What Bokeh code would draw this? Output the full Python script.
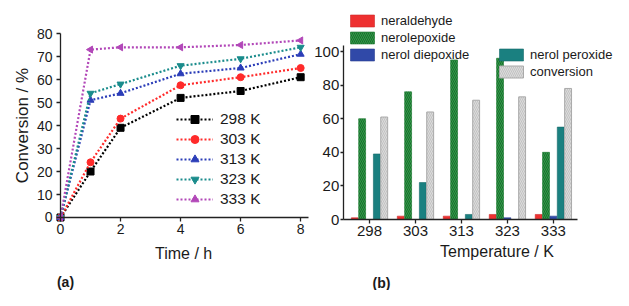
import numpy as np
from bokeh.plotting import figure
from bokeh.models import Range1d, FixedTicker, Legend, LegendItem, Label, ColumnDataSource
from bokeh.layouts import row
from bokeh.transform import dodge
from bokeh.embed import file_html
from bokeh.resources import INLINE

FONT = "Liberation Sans"
INK = "#1a1a1a"

# ---------------- (a) conversion vs time ----------------
time_h = [0, 1, 2, 4, 6, 8]
conv_298 = [0, 20, 39, 52, 55, 61]
conv_303 = [0, 24, 43, 57.5, 61, 65]
conv_313 = [0, 51, 54, 62.5, 65, 71]
conv_323 = [0, 54, 58, 66, 69, 74]
conv_333 = [0, 73, 74, 74, 75, 77]
series_labels = ["298 K", "303 K", "313 K", "323 K", "333 K"]
time_ticks = [0, 2, 4, 6, 8]
conv_ticks = [0, 10, 20, 30, 40, 50, 60, 70, 80]

# ---------------- (b) product distribution ----------------
temps = ["298", "303", "313", "323", "333"]
neraldehyde = [1, 2, 2, 3, 3]
nerolepoxide = [60, 76, 95, 96, 40]
nerol_diepoxide = [0, 0, 0, 1, 2]
nerol_peroxide = [39, 22, 3, 0, 55]
conversion = [61, 64, 71, 73, 78]
pct_ticks = [0, 20, 40, 60, 80, 100]


def style_axis(ax, size):
    ax.axis_line_color = "#222222"
    ax.axis_line_width = 1.3
    ax.major_tick_line_color = "#222222"
    ax.major_tick_line_width = 1.3
    ax.major_tick_in = 0
    ax.major_tick_out = 4
    ax.minor_tick_line_color = None
    ax.major_label_text_font = FONT
    ax.major_label_text_font_size = size
    ax.major_label_text_color = INK


def bare_figure(width, xr, yr):
    p = figure(width=width, height=290, x_range=Range1d(*xr), y_range=Range1d(*yr),
               output_backend="svg", toolbar_location=None,
               min_border=0, min_border_left=0, min_border_right=0,
               min_border_top=0, min_border_bottom=0)
    p.outline_line_color = None
    p.grid.visible = False
    return p


def text(p, x, y, s, size, bold=False, angle=0.0):
    p.add_layout(Label(x=x, y=y, text=s, angle=angle, text_align="center",
                       text_baseline="middle", text_font=FONT, text_font_size=size,
                       text_font_style="bold" if bold else "normal", text_color=INK))


# ---------------- figure a ----------------
pa = bare_figure(309, (-1.9987, 8.2945), (-31.74, 94.35))
for ax in pa.axis:
    style_axis(ax, "14px")
pa.xaxis.fixed_location = 0
pa.yaxis.fixed_location = 0
pa.xaxis.bounds = (0, 8.26)
pa.yaxis.bounds = (0, 80)
pa.xaxis.ticker = FixedTicker(ticks=time_ticks)
pa.yaxis.ticker = FixedTicker(ticks=conv_ticks)
pa.xaxis.major_label_standoff = 3
pa.yaxis.major_label_standoff = 4

series = [conv_298, conv_303, conv_313, conv_323, conv_333]
colors = ["#000000", "#ff2a2a", "#2b3db8", "#1a8c8c", "#b247b8"]
markers = ["square", "circle", "triangle", "inverted_triangle", "triangle"]
angles = [0, 0, 0, 0, np.pi / 2]
items = []
for lab, ys, c, m, ang in zip(series_labels, series, colors, markers, angles):
    r1 = pa.line(time_h, ys, line_color=c, line_width=2.2, line_dash="2 2")
    r2 = pa.scatter(time_h, ys, marker=m, size=7, angle=ang, fill_color=c, line_color=c)
    items.append(LegendItem(label=lab, renderers=[r1, r2]))
leg_a = Legend(items=items, location=(176, 81), border_line_color=None,
               background_fill_alpha=0, padding=0, margin=0, spacing=0,
               glyph_width=37, glyph_height=20, label_height=20, label_standoff=7,
               label_text_font=FONT, label_text_font_size="15.5px", label_text_color=INK)
pa.add_layout(leg_a)
text(pa, -1.2825, 40, "Conversion / %", "17px", angle=np.pi / 2)
text(pa, 4.1, -15.65, "Time / h", "16px")
text(pa, 0.167, -28.26, "(a)", "14px", bold=True)

# ---------------- figure b ----------------
pb = bare_figure(304, (-1.3052, 5.3078), (-42.26, 130.36))
for ax in pb.axis:
    style_axis(ax, "15px")
idx = list(range(len(temps)))
pb.xaxis.fixed_location = 0
pb.yaxis.fixed_location = -0.57
pb.xaxis.bounds = (-0.57, 4.52)
pb.yaxis.bounds = (0, 103.6)
pb.xaxis.ticker = FixedTicker(ticks=idx)
pb.xaxis.major_label_overrides = {i: t for i, t in zip(idx, temps)}
pb.yaxis.ticker = FixedTicker(ticks=pct_ticks)
pb.xaxis.major_label_standoff = 2
pb.yaxis.major_label_standoff = 1
pb.yaxis.major_tick_out = 3

src = ColumnDataSource(dict(x=idx, neraldehyde=neraldehyde, nerolepoxide=nerolepoxide,
                            diepoxide=nerol_diepoxide, peroxide=nerol_peroxide,
                            conversion=conversion))
bw = 0.15
r_ald = pb.vbar(x=dodge("x", -0.32), top="neraldehyde", width=bw, source=src,
                fill_color="#ee3030", line_color="#cc2a2a", line_width=0.6)
r_epo = pb.vbar(x=dodge("x", -0.16), top="nerolepoxide", width=bw, source=src,
                fill_color="#2f9c48", line_color="#237a36", line_width=0.6,
                hatch_pattern="left_diagonal_line", hatch_color="#1c6b2e",
                hatch_scale=4, hatch_weight=1)
r_die = pb.vbar(x=dodge("x", 0.0), top="diepoxide", width=bw, source=src,
                fill_color="#3049a8", line_color="#283e90", line_width=0.6)
r_per = pb.vbar(x=dodge("x", 0.16), top="peroxide", width=bw, source=src,
                fill_color="#1a8080", line_color="#156a6a", line_width=0.6)
r_con = pb.vbar(x=dodge("x", 0.32), top="conversion", width=bw, source=src,
                fill_color="#dcdcdc", line_color="#aaaaaa", line_width=1,
                hatch_pattern="left_diagonal_line", hatch_color="#c2c2c2",
                hatch_scale=4, hatch_weight=1)

leg_kw = dict(border_line_color=None, background_fill_alpha=0, padding=0, margin=0,
              spacing=2, glyph_width=30, glyph_height=15, label_height=15, label_standoff=4,
              label_text_font=FONT, label_text_font_size="13px", label_text_color=INK)
leg_b1 = Legend(items=[LegendItem(label="neraldehyde", renderers=[r_ald]),
                       LegendItem(label="nerolepoxide", renderers=[r_epo]),
                       LegendItem(label="nerol diepoxide", renderers=[r_die])],
                location=(38, 228), **leg_kw)
leg_b2 = Legend(items=[LegendItem(label="nerol peroxide", renderers=[r_per]),
                       LegendItem(label="conversion", renderers=[r_con])],
                location=(187, 211), **leg_kw)
pb.add_layout(leg_b1)
pb.add_layout(leg_b2)
text(pb, 2.774, -19.05, "Temperature / K", "16px")
text(pb, 0.261, -37.5, "(b)", "14px", bold=True)

layout = row(pa, pb)
open("out.html", "w").write(file_html(layout, INLINE))
